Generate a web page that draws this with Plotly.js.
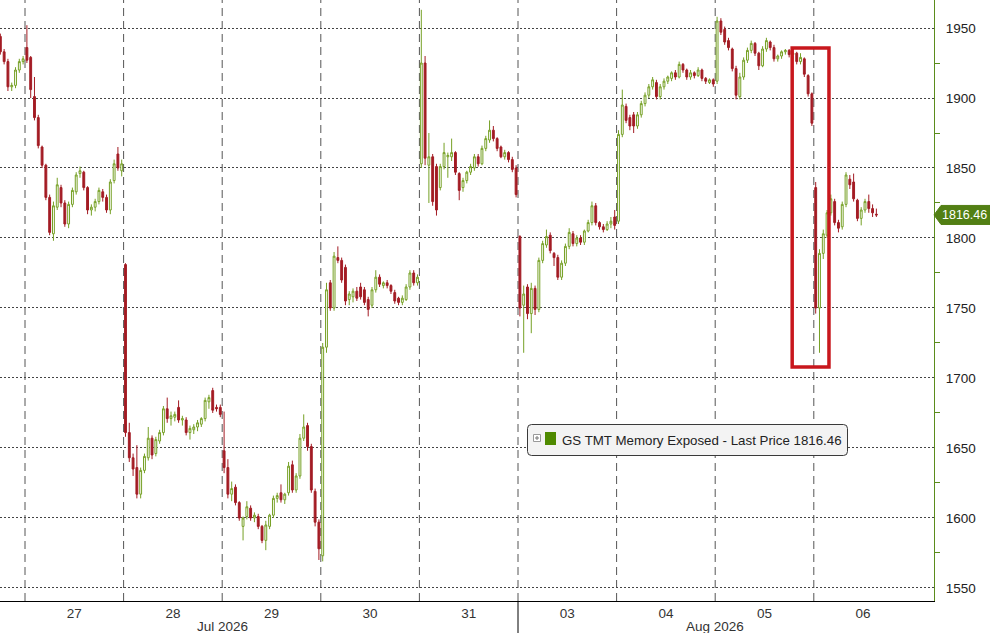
<!DOCTYPE html>
<html><head><meta charset="utf-8">
<script src="https://cdn.plot.ly/plotly-3.0.1.min.js"></script>
<style>html,body{margin:0;padding:0;background:#fff;}#chart{width:990px;height:633px;}</style>
</head><body><div id="chart"></div>
<script>
// ---------------- DATA ----------------
const seriesName = 'GS TMT Memory Exposed';
const sessionLabels = ['24', '27', '28', '29', '30', '31', '03', '04', '05', '06'];
const sessionMonth  = ['Jul', 'Jul', 'Jul', 'Jul', 'Jul', 'Jul', 'Aug', 'Aug', 'Aug', 'Aug'];
const sessionBars   = [7, 26, 26, 26, 26, 26, 26, 26, 26, 17];
const slotsPerSession = 26;
const monthLabels = ['Jul 2026', 'Aug 2026'];
const yTicks = [1550, 1600, 1650, 1700, 1750, 1800, 1850, 1900, 1950];

const open = [
  // Jul 24 (tail)
  1944,1933,1926,1908,1909,1920,1926,
  // Jul 27
  1936,1929,1901,1886,1865,1852,1829,1803,1822,1836,1825,1810,1824,1833,1846,1847,1836,1820,1822,1826,1833,1829,1820,1841,1860,1848,
  // Jul 28
  1781,1661,1643,1636,1617,1634,1643,1657,1646,1655,1661,1678,1671,1672,1679,1670,1670,1661,1663,1665,1667,1671,1683,1691,1679,1679,
  // Jul 29
  1648,1636,1617,1622,1611,1594,1601,1607,1600,1601,1594,1584,1594,1602,1614,1618,1613,1618,1638,1620,1630,1657,1666,1651,1619,1597,
  // Jul 30
  1573,1722,1768,1750,1786,1784,1779,1756,1758,1762,1765,1763,1756,1752,1763,1772,1766,1768,1766,1761,1757,1754,1756,1765,1775,1768,
  // Jul 31
  1853,1925,1852,1858,1851,1836,1851,1858,1858,1861,1846,1836,1841,1847,1850,1858,1853,1864,1870,1877,1871,1865,1858,1861,1856,1850,
  // Aug 03
  1801,1752,1765,1746,1764,1749,1784,1795,1802,1789,1786,1772,1782,1794,1803,1796,1800,1797,1805,1811,1823,1811,1808,1806,1810,1815,
  // Aug 04
  1812,1874,1894,1886,1888,1880,1888,1896,1902,1908,1911,1901,1908,1912,1914,1918,1915,1924,1920,1915,1918,1916,1920,1914,1911,1913,
  // Aug 05
  1912,1955,1949,1941,1935,1921,1901,1915,1927,1934,1939,1932,1923,1935,1940,1936,1928,1930,1933,1934,1931,1932,1926,1928,1916,1903,
  // Aug 06
  1836,1750,1789,1802,1818,1826,1811,1808,1824,1842,1840,1827,1814,1820,1826,1821,1817
];
const high = [
  1946,1935,1928,1911,1922,1928,1930,
  1952,1930,1915,1888,1866,1853,1831,1826,1843,1838,1827,1826,1836,1847,1851,1848,1837,1824,1828,1836,1835,1831,1842,1856,1865,1856,
  1782,1668,1646,1652,1636,1646,1665,1659,1658,1663,1680,1686,1676,1676,1684,1673,1672,1666,1667,1670,1672,1686,1688,1693,1681,1681,
  1676,1642,1626,1624,1612,1601,1612,1609,1604,1603,1595,1598,1603,1616,1618,1624,1618,1640,1641,1632,1660,1674,1668,1653,1621,1599,
  1725,1768,1770,1790,1794,1786,1781,1762,1764,1765,1768,1765,1758,1765,1777,1774,1769,1770,1767,1763,1758,1759,1767,1777,1777,1774,
  1963,1930,1875,1860,1853,1853,1868,1861,1871,1862,1847,1843,1848,1853,1860,1860,1866,1873,1884,1880,1872,1866,1863,1862,1858,1852,
  1802,1766,1767,1768,1766,1786,1798,1806,1804,1790,1788,1784,1796,1807,1805,1802,1802,1806,1813,1826,1825,1812,1810,1812,1815,1820,
  1877,1906,1896,1888,1890,1890,1898,1904,1910,1915,1913,1910,1914,1916,1919,1920,1926,1925,1921,1920,1919,1922,1921,1915,1914,1914,
  1958,1957,1951,1943,1936,1923,1918,1929,1936,1941,1940,1933,1937,1943,1941,1938,1931,1934,1935,1935,1933,1933,1932,1929,1917,1904,
  1840,1792,1806,1820,1831,1828,1813,1826,1847,1845,1846,1828,1822,1828,1831,1824,1821
];
const low = [
  1931,1924,1905,1905,1907,1918,1924,
  1925,1900,1884,1864,1850,1827,1802,1798,1820,1822,1808,1807,1822,1831,1843,1834,1817,1816,1819,1824,1826,1818,1817,1839,1848,1844,
  1658,1640,1630,1614,1614,1632,1641,1642,1644,1653,1659,1668,1666,1669,1668,1666,1659,1656,1660,1662,1665,1669,1678,1675,1676,1672,
  1632,1614,1612,1609,1598,1584,1599,1598,1597,1592,1582,1577,1592,1600,1611,1611,1610,1616,1618,1618,1628,1655,1648,1618,1594,1570,
  1569,1718,1748,1748,1782,1768,1752,1752,1754,1755,1756,1752,1744,1750,1761,1765,1764,1764,1760,1753,1752,1752,1755,1763,1766,1766,
  1850,1852,1825,1823,1816,1834,1849,1843,1855,1845,1827,1833,1839,1845,1848,1851,1852,1862,1868,1869,1862,1857,1856,1854,1847,1829,
  1744,1718,1742,1732,1745,1747,1782,1793,1789,1780,1770,1770,1780,1792,1794,1794,1795,1795,1804,1809,1809,1806,1804,1805,1807,1806,
  1810,1872,1882,1877,1875,1878,1886,1894,1900,1906,1899,1899,1906,1910,1912,1913,1914,1918,1913,1913,1914,1915,1912,1910,1910,1908,
  1910,1945,1938,1934,1919,1899,1899,1913,1925,1932,1930,1920,1922,1933,1934,1926,1926,1928,1931,1929,1928,1924,1924,1915,1901,1880,
  1746,1718,1785,1800,1816,1809,1804,1806,1822,1835,1826,1812,1809,1818,1818,1815,1815
];
const close = [
  1933,1926,1908,1909,1920,1926,1928,
  1927,1906,1886,1866,1852,1829,1804,1823,1838,1825,1810,1824,1834,1845,1848,1836,1820,1822,1826,1834,1829,1820,1840,1853,1850,1853,
  1661,1643,1635,1617,1634,1644,1657,1645,1656,1661,1678,1671,1673,1674,1670,1671,1661,1664,1665,1668,1671,1684,1686,1677,1678,1674,
  1636,1617,1621,1611,1600,1600,1608,1600,1602,1594,1584,1595,1602,1614,1616,1613,1617,1637,1620,1630,1657,1665,1651,1620,1597,1578,
  1722,1763,1750,1787,1784,1770,1755,1760,1762,1757,1758,1754,1749,1763,1772,1767,1768,1766,1762,1755,1754,1757,1765,1775,1768,1772,
  1925,1857,1858,1826,1820,1851,1861,1859,1861,1847,1834,1841,1847,1851,1858,1853,1864,1871,1877,1871,1864,1858,1861,1856,1849,1831,
  1750,1760,1746,1764,1749,1784,1796,1801,1791,1786,1772,1782,1794,1804,1796,1800,1797,1805,1811,1823,1811,1808,1806,1810,1812,1809,
  1874,1895,1884,1880,1880,1888,1896,1902,1908,1913,1901,1908,1912,1915,1918,1915,1924,1920,1915,1918,1916,1920,1914,1912,1913,1910,
  1955,1947,1940,1936,1921,1902,1915,1927,1934,1939,1932,1923,1935,1941,1936,1928,1930,1933,1934,1931,1932,1926,1929,1917,1903,1882,
  1750,1789,1803,1818,1828,1811,1807,1824,1845,1838,1828,1814,1820,1826,1821,1818,1816.46
];

// ---------------- LAYOUT HELPERS ----------------
const W = 990, H = 633;
const M = {l: 0, r: 56, t: 0, b: 32};
const PW = W - M.l - M.r, PH = H - M.t - M.b;
const GREEN = '#5b8c1c', UP = '#76a025', DOWN = '#a31c24';

// x position (slot index) of every bar; the first session is a cut-off tail
const sessionStart = [];
sessionBars.forEach((n, s) => {
  sessionStart.push(s === 0 ? n - slotsPerSession : (s === 1 ? sessionBars[0] : sessionStart[s - 1] + slotsPerSession));
});
const x = [];
sessionBars.forEach((n, s) => {
  const offset = (s === 0) ? (slotsPerSession - n) : 0;
  for (let j = 0; j < n; j++) x.push(sessionStart[s] + offset + j);
});

const slotPx = 98.6 / slotsPerSession;
const xr0 = sessionStart[1] - 0.5 - 25 / slotPx;
const xRange = [xr0, xr0 + PW / slotPx];
const yRange = [1540.7, 1970.0];

const separators = sessionStart.slice(1).map(s => s - 0.5);
const centers = sessionStart.slice(1).map(s => s + slotsPerSession / 2 - 0.5);
const labels = sessionLabels.slice(1);

const px2paperX = p => (p - M.l) / PW;
const px2paperY = p => 1 - (p - M.t) / PH;

const shapes = [];
// day separators
separators.forEach(v => shapes.push({
  type: 'line', xref: 'x', yref: 'paper', x0: v, x1: v, y0: 0, y1: 1, layer: 'below',
  line: {color: '#555', width: 1, dash: '8px,5px'}
}));
// month boundary tick below axis
for (let s = 2; s < sessionMonth.length; s++) {
  if (sessionMonth[s] !== sessionMonth[s - 1]) {
    const v = sessionStart[s] - 0.5;
    shapes.push({type: 'line', xref: 'x', yref: 'paper', x0: v, x1: v, y0: 0, y1: -M.b / PH,
      line: {color: '#000', width: 1}});
  }
}
// highlight rectangle
shapes.push({type: 'rect', xref: 'x', yref: 'y', x0: 208.8, x1: 218.5, y0: 1707.8, y1: 1935.7,
  line: {color: '#c8171d', width: 3.5}, fillcolor: 'rgba(0,0,0,0)', layer: 'above'});

// legend box (rounded)
function roundRect(x0, y0, x1, y1, r) {
  const X = px2paperX, Y = px2paperY;
  return `M ${X(x0 + r)},${Y(y0)} L ${X(x1 - r)},${Y(y0)} Q ${X(x1)},${Y(y0)} ${X(x1)},${Y(y0 + r)} ` +
    `L ${X(x1)},${Y(y1 - r)} Q ${X(x1)},${Y(y1)} ${X(x1 - r)},${Y(y1)} L ${X(x0 + r)},${Y(y1)} ` +
    `Q ${X(x0)},${Y(y1)} ${X(x0)},${Y(y1 - r)} L ${X(x0)},${Y(y0 + r)} Q ${X(x0)},${Y(y0)} ${X(x0 + r)},${Y(y0)} Z`;
}
shapes.push({type: 'path', xref: 'paper', yref: 'paper', path: roundRect(527.5, 424.5, 847.5, 455.5, 4),
  fillcolor: '#f3f3f3', line: {color: '#3a3a3a', width: 1}, layer: 'above'});
// legend icons
shapes.push({type: 'rect', xref: 'paper', yref: 'paper', x0: px2paperX(533.5), x1: px2paperX(540.5),
  y0: px2paperY(434.5), y1: px2paperY(441.5), line: {color: '#999', width: 1}, fillcolor: '#fff', layer: 'above'});
shapes.push({type: 'line', xref: 'paper', yref: 'paper', x0: px2paperX(535), x1: px2paperX(539),
  y0: px2paperY(438), y1: px2paperY(438), line: {color: '#777', width: 1}, layer: 'above'});
shapes.push({type: 'line', xref: 'paper', yref: 'paper', x0: px2paperX(537), x1: px2paperX(537),
  y0: px2paperY(436), y1: px2paperY(440), line: {color: '#777', width: 1}, layer: 'above'});
shapes.push({type: 'rect', xref: 'paper', yref: 'paper', x0: px2paperX(545), x1: px2paperX(556),
  y0: px2paperY(432), y1: px2paperY(445), line: {width: 0}, fillcolor: '#4f8a00', layer: 'above'});

// last price tag
const last = close[close.length - 1];
const lastTxt = last.toFixed(2);
const tagHalf = 9.5 * (yRange[1] - yRange[0]) / PH;
const tx0 = 1, tx1 = 1 + 7 / PW, tx2 = 1 + 56 / PW;
shapes.push({type: 'path', xref: 'paper', yref: 'y',
  path: `M ${tx0},${last} L ${tx1},${last + tagHalf} L ${tx2},${last + tagHalf} L ${tx2},${last - tagHalf} L ${tx1},${last - tagHalf} Z`,
  fillcolor: '#527f14', line: {color: '#527f14', width: 1}, layer: 'above'});

const annotations = [];
annotations.push({xref: 'paper', yref: 'y', x: 1 + 7 / PW, y: last, xanchor: 'left', yanchor: 'middle',
  text: lastTxt, showarrow: false, borderpad: 0,
  font: {family: 'Liberation Sans, Arial, sans-serif', size: 12.5, color: '#fff'}});
annotations.push({xref: 'paper', yref: 'paper', x: px2paperX(560), y: px2paperY(440), xanchor: 'left', yanchor: 'middle',
  text: seriesName + ' - Last Price ' + lastTxt, showarrow: false,
  font: {family: 'Liberation Sans, Arial, sans-serif', size: 13.3, color: '#222'}});
// month labels
const monthAt = [sessionStart[3] - 0.5, sessionStart[8] - 0.5];
monthLabels.forEach((m, i) => annotations.push({xref: 'x', yref: 'paper', x: monthAt[i], y: px2paperY(626),
  xanchor: 'center', yanchor: 'middle', text: m, showarrow: false,
  font: {family: 'Liberation Sans, Arial, sans-serif', size: 13.5, color: '#333'}}));

const minorTicks = yTicks.map(v => v + 25);

const traces = [{
  type: 'candlestick', x: x, open: open, high: high, low: low, close: close,
  increasing: {line: {color: UP, width: 1}, fillcolor: '#ffffff'},
  decreasing: {line: {color: DOWN, width: 1}, fillcolor: DOWN},
  whiskerwidth: 0, hoverinfo: 'skip', showlegend: false, name: seriesName
}, {
  type: 'scatter', mode: 'markers', x: yTicks.map(() => xRange[1] + 3.5 / slotPx), y: yTicks,
  marker: {symbol: 'triangle-right', size: 8, color: GREEN}, cliponaxis: false,
  hoverinfo: 'skip', showlegend: false
}];

const layout = {
  width: W, height: H, margin: M, paper_bgcolor: '#fff', plot_bgcolor: '#fff',
  showlegend: false, hovermode: false,
  font: {family: 'Liberation Sans, Arial, sans-serif', size: 13.5, color: '#333'},
  xaxis: {type: 'linear', range: xRange, showgrid: false, zeroline: false, showline: true,
    linecolor: '#000', linewidth: 1, tickmode: 'array', tickvals: centers, ticktext: labels,
    ticks: '', tickfont: {size: 13.5, color: '#333'}, rangeslider: {visible: false}, fixedrange: true},
  yaxis: {side: 'right', range: yRange, tickmode: 'array', tickvals: yTicks, showgrid: true,
    gridcolor: '#444', griddash: '2px,2px', gridwidth: 1, zeroline: false, showline: true,
    linecolor: GREEN, linewidth: 1, ticks: '', ticklabelstandoff: 8,
    tickfont: {size: 13.5, color: '#222'},
    minor: {tickmode: 'array', tickvals: minorTicks, ticks: 'outside', ticklen: 5, tickcolor: GREEN, tickwidth: 1, showgrid: false},
    fixedrange: true},
  shapes: shapes, annotations: annotations
};

Plotly.newPlot('chart', traces, layout, {staticPlot: true, displayModeBar: false});
</script></body></html>
